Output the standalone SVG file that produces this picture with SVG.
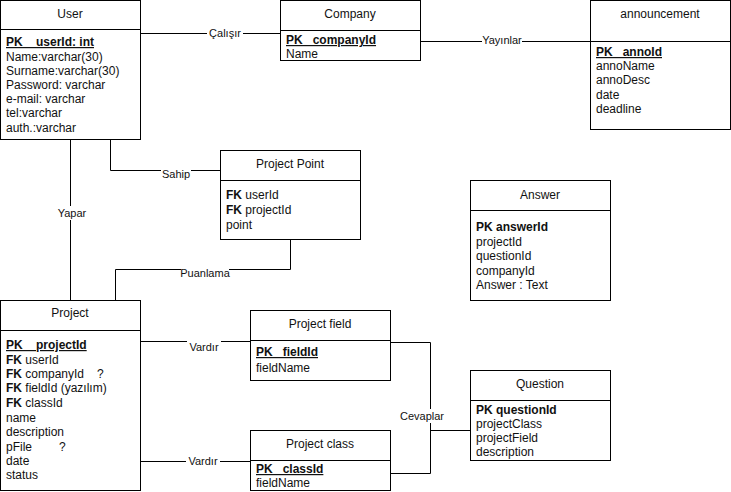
<svg xmlns="http://www.w3.org/2000/svg" width="731" height="492" viewBox="0 0 731 492">
<style>
.box{fill:#fff;stroke:#000;stroke-width:1}
.div{stroke:#000;stroke-width:1}
text{font-family:"Liberation Sans",Arial,sans-serif;font-size:12px;fill:#111}
.t{text-anchor:middle}
.b{font-weight:bold}
.pk{font-weight:bold;text-decoration:underline}
.edge{fill:none;stroke:#000;stroke-width:1}
.lbl{font-size:11px;text-anchor:middle}
.lb{fill:#fff}
</style>
<rect width="731" height="492" fill="#fff"/>
<g id="connectors">
<path class="edge" d="M140,33.5 H280"/>
<path class="edge" d="M420,41.5 H590"/>
<path class="edge" d="M70.5,140 V300"/>
<path class="edge" d="M110.5,140 V170.5 H220"/>
<path class="edge" d="M290.5,240 V269.5 H115.5 V300"/>
<path class="edge" d="M140,341.5 H250"/>
<path class="edge" d="M140,461.5 H250"/>
<path class="edge" d="M390,342.5 H430.5 V473.5 H390 M430.5,430.5 H470"/>
<rect class="lb" x="207" y="26" width="36" height="14"/><text class="lbl" x="225" y="37">Çalışır</text>
<rect class="lb" x="482" y="34" width="40" height="14"/><text class="lbl" x="502" y="44">Yayınlar</text>
<rect class="lb" x="57" y="206" width="30" height="14"/><text class="lbl" x="72" y="217">Yapar</text>
<rect class="lb" x="161" y="167" width="30" height="14"/><text class="lbl" x="176" y="178">Sahip</text>
<rect class="lb" x="181" y="266" width="48" height="14"/><text class="lbl" x="205" y="277">Puanlama</text>
<rect class="lb" x="187" y="340" width="34" height="14"/><text class="lbl" x="204" y="351">Vardır</text>
<rect class="lb" x="186" y="454" width="34" height="14"/><text class="lbl" x="203" y="465">Vardır</text>
<rect class="lb" x="400" y="409" width="44" height="14"/><text class="lbl" x="422" y="420">Cevaplar</text>
</g>
<g id="user">
<rect class="box" x="0.5" y="0.5" width="140" height="139"/>
<line class="div" x1="0.5" y1="29.5" x2="140.5" y2="29.5"/>
<text class="t" x="70" y="18">User</text>
<text class="pk" x="6" y="46" xml:space="preserve">PK    userId: int</text>
<text x="6" y="61">Name:varchar(30)</text>
<text x="6" y="75">Surname:varchar(30)</text>
<text x="6" y="89">Password: varchar</text>
<text x="6" y="103">e-mail: varchar</text>
<text x="6" y="117">tel:varchar</text>
<text x="6" y="132">auth.:varchar</text>
</g>
<g id="company">
<rect class="box" x="280.5" y="0.5" width="140" height="60"/>
<line class="div" x1="280.5" y1="30.5" x2="420.5" y2="30.5"/>
<text class="t" x="350" y="18">Company</text>
<text class="pk" x="286" y="44" xml:space="preserve">PK   companyId</text>
<text x="286" y="58">Name</text>
</g>
<g id="announcement">
<rect class="box" x="590.5" y="0.5" width="140" height="129"/>
<line class="div" x1="590.5" y1="41.5" x2="730.5" y2="41.5"/>
<text class="t" x="660" y="18">announcement</text>
<text class="pk" x="596" y="56" xml:space="preserve">PK   annoId</text>
<text x="596" y="70">annoName</text>
<text x="596" y="84">annoDesc</text>
<text x="596" y="99">date</text>
<text x="596" y="113">deadline</text>
</g>
<g id="project-point">
<rect class="box" x="220.5" y="150.5" width="140" height="89"/>
<line class="div" x1="220.5" y1="180.5" x2="360.5" y2="180.5"/>
<text class="t" x="290" y="168">Project Point</text>
<text x="226" y="199"><tspan class="b">FK</tspan> userId</text>
<text x="226" y="214"><tspan class="b">FK</tspan> projectId</text>
<text x="226" y="229">point</text>
</g>
<g id="answer">
<rect class="box" x="470.5" y="180.5" width="140" height="120"/>
<line class="div" x1="470.5" y1="210.5" x2="610.5" y2="210.5"/>
<text class="t" x="540" y="199">Answer</text>
<text class="b" x="476" y="231">PK answerId</text>
<text x="476" y="245.5">projectId</text>
<text x="476" y="260">questionId</text>
<text x="476" y="274.5">companyId</text>
<text x="476" y="289">Answer : Text</text>
</g>
<g id="project">
<rect class="box" x="0.5" y="300.5" width="140" height="190"/>
<line class="div" x1="0.5" y1="330.5" x2="140.5" y2="330.5"/>
<text class="t" x="70" y="317">Project</text>
<text class="pk" x="6" y="349" xml:space="preserve">PK    projectId</text>
<text x="6" y="363.5"><tspan class="b">FK</tspan> userId</text>
<text x="6" y="378"><tspan class="b">FK</tspan> companyId<tspan x="97">?</tspan></text>
<text x="6" y="392"><tspan class="b">FK</tspan> fieldId (yazılım)</text>
<text x="6" y="407"><tspan class="b">FK</tspan> classId</text>
<text x="6" y="422">name</text>
<text x="6" y="436">description</text>
<text x="6" y="451">pFile<tspan x="59">?</tspan></text>
<text x="6" y="465">date</text>
<text x="6" y="479">status</text>
</g>
<g id="project-field">
<rect class="box" x="250.5" y="310.5" width="140" height="70"/>
<line class="div" x1="250.5" y1="340.5" x2="390.5" y2="340.5"/>
<text class="t" x="320" y="328">Project field</text>
<text class="pk" x="256" y="356" xml:space="preserve">PK   fieldId</text>
<text x="256" y="372">fieldName</text>
</g>
<g id="project-class">
<rect class="box" x="250.5" y="430.5" width="140" height="60"/>
<line class="div" x1="250.5" y1="460.5" x2="390.5" y2="460.5"/>
<text class="t" x="320" y="448">Project class</text>
<text class="pk" x="256" y="473" xml:space="preserve">PK   classId</text>
<text x="256" y="487">fieldName</text>
</g>
<g id="question">
<rect class="box" x="470.5" y="370.5" width="140" height="90"/>
<line class="div" x1="470.5" y1="400.5" x2="610.5" y2="400.5"/>
<text class="t" x="540" y="388">Question</text>
<text class="b" x="476" y="414">PK questionId</text>
<text x="476" y="427.5">projectClass</text>
<text x="476" y="442">projectField</text>
<text x="476" y="456">description</text>
</g>
</svg>
